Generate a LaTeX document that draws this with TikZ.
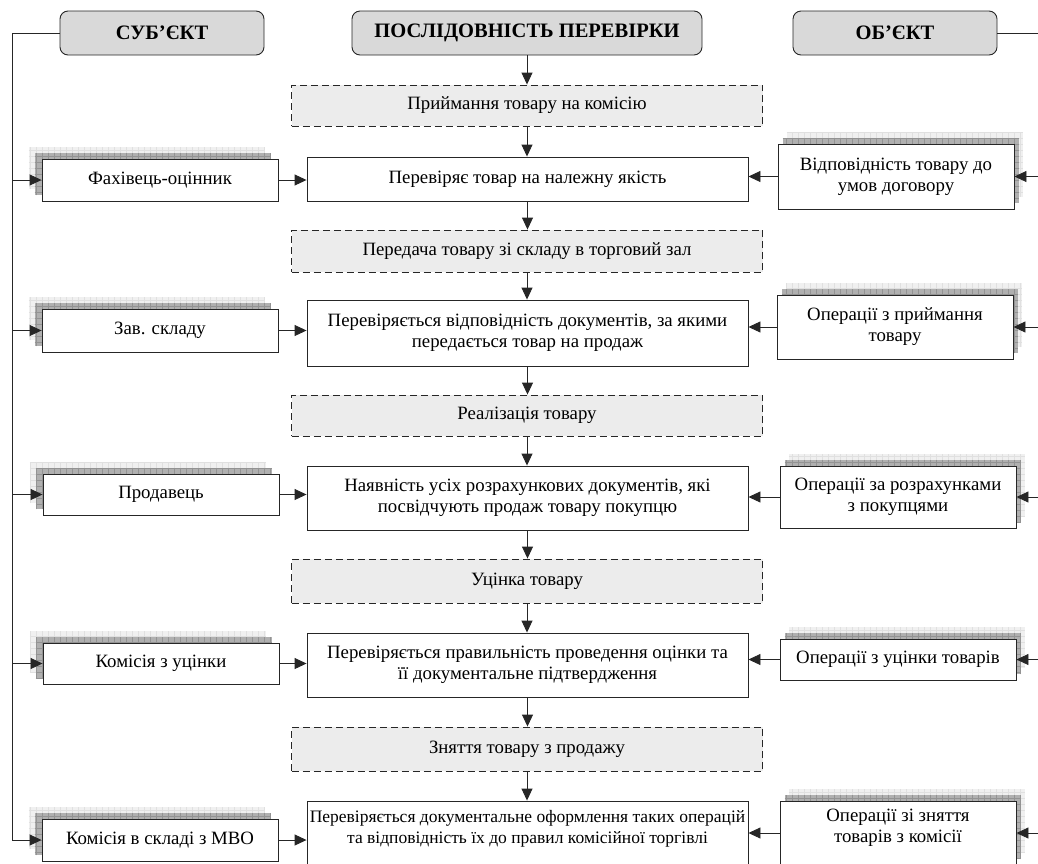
\documentclass[tikz,border=0pt]{standalone}
\usepackage{fontspec}
\setmainfont{Liberation Serif}
\usetikzlibrary{arrows.meta,calc,backgrounds}
\tikzset{
  x=1pt,y=-1pt,
  base/.style={draw=black!85, line width=0.9pt, inner sep=2pt, align=center, font=\fontsize{18.8}{21}\selectfont},
  hdr/.style={base, rounded corners=8pt, fill=gray!30, font=\bfseries\fontsize{20.5}{24}\selectfont, minimum height=44pt},
  stage/.style={base, dash pattern=on 7pt off 4pt, fill=gray!15, minimum width=471pt},
  cbox/.style={base, fill=white, minimum width=441pt},
  sbox/.style={base, fill=white, minimum width=236pt},
  conn/.style={line width=0.9pt, draw=black!85},
  arr/.style={conn, -{Triangle[length=12pt,width=11pt]}},
  shdark/.style={fill=gray!62},
  shlight/.style={fill=gray!12},
  grdark/.style={draw=gray!85, line width=0.3pt},
  grlight/.style={draw=gray!24, line width=0.3pt},
}
\newcommand\shadelayer[5]{%
  \path[#4] ($(#1.north west)+(#2,#3)$) rectangle ($(#1.south east)+(#2,#3)$);
  \draw[#5, step=6pt] ($(#1.north west)+(#2,#3)$) grid ($(#1.south east)+(#2,#3)$);
}
\newcommand\liftedtext[1]{\raisebox{5pt}[\height][\depth]{\begin{tabular}{@{}c@{}}#1\end{tabular}}}
\begin{document}
\begin{tikzpicture}
\useasboundingbox (0,0) rectangle (1038,863);
\clip (0,0) rectangle (1038,863);

% headers
\node[hdr, minimum width=204pt] (hs) at (162,33) {СУБ’ЄКТ};
\node[hdr, minimum width=350pt] (hp) at (527,33) {ПОСЛІДОВНІСТЬ ПЕРЕВІРКИ};
\node[hdr, minimum width=204pt] (ho) at (895,33) {ОБ’ЄКТ};

% stages
\node[stage, minimum height=41pt] (d1) at (527,105.5) {Приймання товару на комісію};
\node[stage, minimum height=42pt] (d2) at (527,251) {Передача товару зі складу в торговий зал};
\node[stage, minimum height=41pt] (d3) at (527,415.5) {Реалізація товару};
\node[stage, minimum height=44pt] (d4) at (527,581) {Уцінка товару};
\node[stage, minimum height=44pt] (d5) at (527,749) {Зняття товару з продажу};

% central checks
\node[cbox, minimum height=44pt] (c1) at (527.5,179) {Перевіряє товар на належну якість};
\node[cbox, minimum height=66pt] (c2) at (527.5,333) {Перевіряється відповідність документів, за якими\\передається товар на продаж};
\node[cbox, minimum height=64pt] (c3) at (527.5,498) {Наявність усіх розрахункових документів, які\\посвідчують продаж товару покупцю};
\node[cbox, minimum height=64pt] (c4) at (527.5,665) {Перевіряється правильність проведення оцінки та\\її документальне підтвердження};
\node[cbox, minimum height=66pt, font=\fontsize{17.5}{21}\selectfont] (c5) at (527.5,834) {\liftedtext{Перевіряється документальне оформлення таких операцій\\та відповідність їх до правил комісійної торгівлі}};

% subjects
\node[sbox, minimum height=42pt] (L1) at (160,180) {Фахівець-оцінник};
\node[sbox, minimum height=43pt] (L2) at (160,330.5) {Зав. складу};
\node[sbox, minimum height=41pt] (L3) at (161,494.5) {Продавець};
\node[sbox, minimum height=41pt] (L4) at (161,663.5) {Комісія з уцінки};
\node[sbox, minimum height=42pt] (L5) at (160,840) {Комісія в складі з МВО};

% objects
\node[sbox, minimum height=65pt] (R1) at (896,176.5) {Відповідність товару до\\умов договору};
\node[sbox, minimum height=64pt] (R2) at (895,327) {Операції з приймання\\товару};
\node[sbox, minimum height=62pt] (R3) at (898,497) {Операції за розрахунками\\з покупцями};
\node[sbox, minimum height=41pt] (R4) at (898,659.5) {Операції з уцінки товарів};
\node[sbox, minimum height=64pt] (R5) at (898,833) {\liftedtext{Операції зі зняття\\товарів з комісії}};

% shadows
\begin{scope}[on background layer]
\foreach \n in {L1,L2,L3,L4,L5}{
  \shadelayer{\n}{-13}{-12}{shlight}{grlight}
  \shadelayer{\n}{-7}{-6}{shdark}{grdark}
}
\foreach \n in {R1,R2,R3,R4,R5}{
  \shadelayer{\n}{9}{-12}{shlight}{grlight}
  \shadelayer{\n}{5}{-6}{shdark}{grdark}
}
\end{scope}

% trunks
\coordinate (lt) at (12,33);
\coordinate (rt) at (1046,33);
\draw[conn] (hs.west) -- (lt) -- (lt |- L5.west);
\draw[conn] (ho.east) -- (rt);

% central flow
\draw[arr] (hp.south) -- (hp.south |- d1.north);
\foreach \i in {1,...,5}{
  \draw[arr] (d\i.south) -- (d\i.south |- c\i.north);
}
\foreach \i/\j in {1/2,2/3,3/4,4/5}{
  \draw[arr] (c\i.south) -- (c\i.south |- d\j.north);
}

% side arrows
\foreach \i in {1,...,5}{
  \draw[arr] (lt |- L\i.west) -- (L\i.west);
  \draw[arr] (L\i.east) -- (L\i.east -| c\i.west);
  \draw[arr] (rt |- R\i.east) -- (R\i.east);
  \draw[arr] (R\i.west) -- (R\i.west -| c\i.east);
}
\end{tikzpicture}
\end{document}
